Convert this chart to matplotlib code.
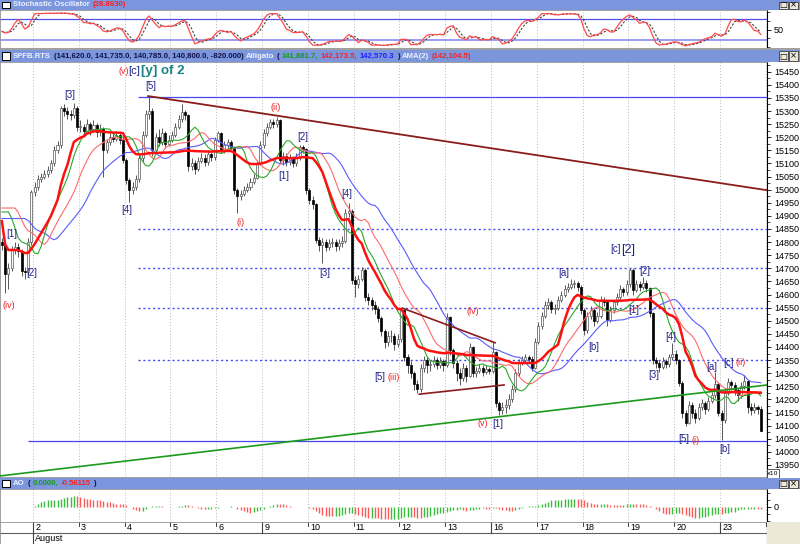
import matplotlib
matplotlib.use("Agg")
import matplotlib.pyplot as plt
from matplotlib.patches import Rectangle
import numpy as np
import pandas as pd

# SPFB.RTS hourly bars, 31 Jul .. 23 Aug (prices shown /10)
closes = [
    14790, 14680, 14700, 14770, 14780, 14765, 14690, 14685, 14800, 14990,
    15010, 15040, 15050, 15060, 15075, 15100, 15150, 15170, 15311, 15300, 15290, 15285, 15310, 15239,
    15240, 15225, 15250, 15230, 15245, 15220, 15230, 15151, 15180, 15200, 15195, 15210, 15190, 15113,
    15037, 15000, 15010, 15040, 15120, 15210, 15290, 15300, 15150, 15200, 15180, 15215, 15175, 15190,
    15210, 15240, 15270, 15295, 15285, 15090, 15100, 15080, 15110, 15120, 15105, 15135, 15125, 15190,
    15215, 15150, 15170, 15180, 15160, 14998, 14975, 14985, 15000, 15010, 15030, 15045, 15100, 15170,
    15216, 15240, 15260, 15250, 15265, 15113, 15130, 15105, 15120, 15100, 15125, 15163, 15155, 14998,
    14960, 14945, 14808, 14790, 14800, 14780, 14795, 14800, 14785, 14795, 14805, 14910, 14920, 14655,
    14640, 14660, 14693, 14590, 14580, 14560, 14545, 14510, 14460, 14420, 14440, 14440, 14410, 14430,
    14541, 14360, 14330, 14300, 14260, 14240, 14320, 14350, 14330, 14335, 14350, 14330, 14345, 14330,
    14515, 14389, 14340, 14300, 14280, 14320, 14290, 14400, 14300, 14310, 14320, 14305, 14315, 14310,
    14380, 14185, 14160, 14170, 14180, 14200, 14240, 14300, 14340, 14350, 14360, 14355, 14320, 14420,
    14480, 14520, 14560, 14570, 14545, 14550, 14580, 14600, 14620, 14630, 14640, 14645, 14630, 14541,
    14465, 14520, 14540, 14500, 14520, 14580, 14570, 14503, 14540, 14570, 14590, 14620, 14610, 14640,
    14693, 14617, 14640, 14630, 14645, 14625, 14530, 14350, 14340, 14325, 14345, 14335, 14360, 14375,
    14350, 14262, 14148, 14110, 14180, 14150, 14130, 14170, 14185, 14165, 14195, 14215, 14260, 14150,
    14120, 14225, 14265, 14255, 14235, 14215, 14250, 14270, 14172, 14160, 14170, 14162, 14080,
]
highs = [
    14815, 14800, 14720, 14785, 14800, 14795, 14775, 14705, 14815, 15000,
    15030, 15055, 15065, 15075, 15090, 15115, 15165, 15185, 15320, 15325, 15315, 15305, 15332, 15318,
    15265, 15250, 15270, 15260, 15265, 15255, 15250, 15240, 15195, 15215, 15215, 15225, 15220, 15200,
    15120, 15045, 15030, 15055, 15135, 15225, 15305, 15357, 15310, 15215, 15230, 15235, 15225, 15210,
    15225, 15255, 15285, 15325, 15305, 15290, 15120, 15115, 15125, 15140, 15135, 15150, 15145, 15200,
    15225, 15220, 15185, 15195, 15190, 15165, 15005, 15000, 15015, 15025, 15045, 15060, 15115, 15185,
    15230, 15255, 15270, 15268, 15278, 15270, 15145, 15140, 15135, 15130, 15140, 15170, 15172, 15160,
    15005, 14975, 14950, 14820, 14815, 14810, 14810, 14815, 14810, 14810, 14825, 14925, 14949, 14925,
    14670, 14675, 14705, 14700, 14605, 14590, 14575, 14555, 14520, 14470, 14460, 14465, 14455, 14450,
    14550, 14545, 14375, 14345, 14310, 14275, 14335, 14365, 14360, 14350, 14365, 14360, 14360, 14355,
    14530, 14520, 14395, 14350, 14320, 14340, 14330, 14415, 14405, 14325, 14335, 14330, 14330, 14325,
    14420, 14385, 14195, 14190, 14200, 14220, 14255, 14315, 14355, 14365, 14375, 14370, 14365, 14435,
    14495, 14535, 14575, 14585, 14580, 14565, 14595, 14615, 14635, 14645, 14660, 14655, 14650, 14635,
    14550, 14535, 14555, 14550, 14535, 14595, 14590, 14575, 14555, 14580, 14605, 14635, 14630, 14655,
    14700, 14700, 14655, 14650, 14667, 14655, 14630, 14535, 14360, 14350, 14360, 14355, 14375, 14415,
    14390, 14355, 14270, 14160, 14195, 14190, 14165, 14185, 14200, 14195, 14210, 14230, 14305, 14265,
    14160, 14240, 14280, 14275, 14265, 14245, 14265, 14293, 14275, 14185, 14185, 14180, 14173.5,
]
lows = [
    14770, 14606, 14620, 14690, 14755, 14745, 14670, 14660, 14675, 14790,
    14975, 15000, 15030, 15040, 15050, 15065, 15090, 15140, 15160, 15280, 15270, 15265, 15275, 15225,
    15220, 15205, 15215, 15210, 15220, 15200, 15205, 15048, 15140, 15170, 15180, 15185, 15175, 15100,
    15020, 14953, 14985, 15000, 15030, 15110, 15200, 15270, 15130, 15140, 15165, 15170, 15160, 15165,
    15180, 15200, 15230, 15260, 15265, 15070, 15075, 15060, 15070, 15100, 15090, 15095, 15110, 15115,
    15180, 15140, 15140, 15160, 15150, 14985, 14910, 14960, 14975, 14990, 15000, 15020, 15040, 15095,
    15160, 15205, 15230, 15235, 15240, 15100, 15095, 15090, 15095, 15085, 15090, 15115, 15140, 14985,
    14945, 14925, 14795, 14765, 14720, 14765, 14770, 14780, 14765, 14770, 14780, 14795, 14895, 14640,
    14591, 14625, 14650, 14575, 14560, 14540, 14525, 14495, 14440, 14395, 14405, 14420, 14390, 14400,
    14420, 14345, 14300, 14280, 14235, 14223, 14230, 14305, 14300, 14310, 14325, 14315, 14320, 14310,
    14325, 14370, 14320, 14270, 14255, 14270, 14265, 14285, 14285, 14285, 14300, 14290, 14295, 14295,
    14300, 14170, 14140, 14145, 14150, 14165, 14190, 14230, 14290, 14330, 14340, 14340, 14310, 14315,
    14410, 14470, 14510, 14545, 14530, 14525, 14540, 14570, 14590, 14610, 14620, 14625, 14615, 14525,
    14446, 14455, 14505, 14480, 14490, 14510, 14555, 14480, 14495, 14530, 14560, 14580, 14595, 14600,
    14630, 14600, 14610, 14615, 14620, 14610, 14515, 14335, 14320, 14305, 14315, 14320, 14325, 14350,
    14335, 14250, 14130, 14100, 14105, 14130, 14110, 14120, 14160, 14145, 14155, 14185, 14205, 14135,
    14045, 14110, 14215, 14235, 14215, 14195, 14205, 14240, 14150, 14140, 14150, 14145, 14078.5,
]
first_open = 14800

# indicator levels at the left edge of the chart
jaw_start = 14890
teeth_start = 14930
lips_start = 14915
ama_start = 14880

day_names = ["2", "3", "4", "5", "6", "9", "10", "11", "12", "13", "16", "17", "18", "19", "20", "23", "24"]
day_first_bar = [10, 24, 38, 52, 66, 80, 94, 108, 122, 136, 150, 164, 178, 192, 206, 220, 234]
week_days = ["2", "9", "16", "23"]

hlines_solid = [15355, 14040]
hlines_dotted = [14850, 14700, 14550, 14350]

# wave count labels: bar, price, text, colour
navy, red, teal = "#22228c", "#ee2020", "#178282"
wave_labels = [
    (3.1, 14831, "[1]", navy), (9.2, 14682, "[2]", navy), (2.2, 14560, "(iv)", red),
    (20.8, 15361, "[3]", navy), (38.3, 14922, "[4]", navy), (45.6, 15395, "[5]", navy),
    (73.1, 14873, "(i)", red), (83.8, 15315, "(ii)", red), (86.3, 15052, "[1]", navy),
    (92.1, 15201, "[2]", navy), (98.8, 14682, "[3]", navy), (105.5, 14983, "[4]", navy),
    (115.6, 14286, "[5]", navy), (119.9, 14282, "(iii)", red), (144.1, 14534, "(iv)", red),
    (147.1, 14107, "(v)", red), (151.7, 14107, "[1]", navy), (171.9, 14682, "[a]", navy),
    (180.8, 14400, "[b]", navy), (187.5, 14774, "[c]", navy), (196.4, 14690, "[2]", navy),
    (193.3, 14541, "[1]", navy), (199.4, 14293, "[3]", navy), (204.6, 14438, "[4]", navy),
    (208.6, 14049, "[5]", navy), (212.0, 14045, "(i)", red), (216.9, 14324, "[a]", navy),
    (222.1, 14339, "[c]", navy), (225.7, 14339, "(ii)", red), (221.1, 14011, "[b]", navy),
]

c = np.array(closes, float)
h = np.array(highs, float)
l = np.array(lows, float)
o = np.r_[first_open, c[:-1]]
med = (h + l) / 2
n = len(c)
idx = np.arange(n)


def smma(x, period, start):
    out = np.empty(len(x))
    s = start
    for k, v in enumerate(x):
        s = (s * (period - 1) + v) / period
        out[k] = s
    return out


def shifted(x, k, start):
    return np.r_[np.full(k, start), x[:-k]]


def kama(x, period, start):
    fast, slow = 2 / 3, 2 / 31
    out = np.empty(len(x))
    a = start
    for k in range(len(x)):
        j = max(0, k - period)
        vol = np.abs(np.diff(x[j:k + 1])).sum()
        er = abs(x[k] - x[j]) / vol if vol > 0 else 0
        sc = (er * (fast - slow) + slow) ** 2
        a += sc * (x[k] - a)
        out[k] = a
    return out


jaw = shifted(smma(med, 13, jaw_start), 8, jaw_start)
teeth = shifted(smma(med, 8, teeth_start), 5, teeth_start)
lips = shifted(smma(med, 5, lips_start), 3, lips_start)
ama = kama(c, 20, ama_start)

hh = pd.Series(h).rolling(14, min_periods=1).max()
ll = pd.Series(l).rolling(14, min_periods=1).min()
k_raw = 100 * (pd.Series(c) - ll) / (hh - ll)
k_line = k_raw.rolling(3, min_periods=1).mean()
d_line = k_line.rolling(3, min_periods=1).mean()

m = pd.Series(med)
ao = (m.rolling(5, min_periods=1).mean() - m.rolling(34, min_periods=1).mean()).values

# ---------------------------------------------------------------- layout
W, H = 800, 544
fig = plt.figure(figsize=(8, 5.44), dpi=100)
fig.patch.set_facecolor("white")


def px_box(x0, y0, x1, y1):
    return [x0 / W, 1 - y1 / H, (x1 - x0) / W, (y1 - y0) / H]


def fy(y):
    return 1 - y / H


def bar_at(px):
    # pixel column -> bar index
    return (px - 1.9) / 3.27


ax_st = fig.add_axes(px_box(0, 10, 767, 48))
ax = fig.add_axes(px_box(0, 62, 767, 477))
ax_ao = fig.add_axes(px_box(0, 489, 767, 522))
ax_dt = fig.add_axes(px_box(0, 522, 767, 544))

xlo, xhi = -0.58, 233.9
bounds = [b - 0.5 for b in day_first_bar]

for a in (ax_st, ax, ax_ao, ax_dt):
    a.set_xlim(xlo, xhi)
    a.set_xticks([])
    for s in ("left", "top", "bottom"):
        a.spines[s].set_color("#909090")
        a.spines[s].set_linewidth(0.6)
    a.spines["right"].set_color("black")
    a.spines["right"].set_linewidth(0.8)
for a in (ax_st, ax, ax_ao):
    for b in bounds:
        a.axvline(b, color="#b8b8b8", lw=0.7, ls=(0, (1, 2)), zorder=0)
    a.yaxis.tick_right()
    a.tick_params(axis="y", direction="out", length=3, width=0.6, pad=2,
                  labelsize=6.5, labelfontfamily="Liberation Sans")

# ---------------------------------------------------------------- stochastic
ax_st.set_ylim(-3.6, 106.5)
ax_st.axhline(80, color="#5050ee", lw=0.9)
ax_st.axhline(20, color="#8a8af5", lw=1.2)
ax_st.plot(idx, d_line, color="#444444", lw=0.8, ls=(0, (2, 1.5)))
ax_st.plot(idx, k_line, color="#ff4a4a", lw=0.9)
ax_st.set_yticks([50])
ax_st.set_yticks([0, 25, 75, 100], minor=True)
ax_st.tick_params(axis="y", which="minor", direction="out", length=2, width=0.5)

# ---------------------------------------------------------------- price
ax.set_ylim(13904, 15487)
ax.set_yticks(np.arange(13950, 15451, 50))
ax.set_yticks(np.arange(13925, 15480, 50), minor=True)
ax.tick_params(axis="y", which="minor", direction="out", length=2, width=0.5)

for p in hlines_dotted:
    ax.hlines(p, 41.6, xhi, color="#4848f0", lw=1.0, ls=(0, (1.5, 2)), zorder=2)
ax.hlines(hlines_solid[0], 41.6, xhi, color="#4848f0", lw=0.9, zorder=2)
ax.hlines(hlines_solid[1], 8, xhi, color="#4848f0", lw=0.9, zorder=2)

ax.plot([xlo, xhi], [13908, 14255], color="#1b9a1b", lw=1.2, zorder=6)
ax.plot([44.7, xhi], [15357, 14998], color="#8b1c1c", lw=1.3, zorder=6)
ax.plot([122.5, 150.8], [14548, 14416], color="#8b1c1c", lw=1.2, zorder=6)
ax.plot([127.6, 153.5], [14220, 14255], color="#8b1c1c", lw=1.2, zorder=6)

up = c >= o
body_lo = np.minimum(o, c)
body_h = np.maximum(np.abs(c - o), 3)
ax.vlines(idx, l, h, color="#555555", lw=0.7, zorder=3)
ax.bar(idx[up], body_h[up], bottom=body_lo[up], width=0.62, color="white",
       edgecolor="#555555", lw=0.5, zorder=4)
ax.bar(idx[~up], body_h[~up], bottom=body_lo[~up], width=0.62, color="black",
       edgecolor="black", lw=0.5, zorder=4)

ax.plot(idx, jaw, color="#5a5aff", lw=0.8, zorder=5)
ax.plot(idx, teeth, color="#ff6a6a", lw=0.8, zorder=5)
ax.plot(idx, lips, color="#2aa82a", lw=0.8, zorder=5)
ax.plot(idx, ama, color="#ff1010", lw=1.8, zorder=5)

for bx, py, txt, col in wave_labels:
    ax.text(bx, py, txt, color=col, ha="center", va="center", zorder=7,
            fontsize=7 if col == navy else 6.5, family="Liberation Sans")
ax.text(191.5, 14770, "[2]", color=navy, ha="center", va="center",
        fontsize=9, family="Liberation Sans", zorder=7)
# big count title near the top
ax.text(bar_at(118), 15452, "(v)", color=red, ha="left", va="center", fontsize=6.5,
        family="Liberation Sans", zorder=7)
ax.text(bar_at(128), 15452, "[c]", color=navy, ha="left", va="center", fontsize=8,
        family="Liberation Sans", zorder=7)
ax.text(bar_at(141), 15452, "[y] of 2", color=teal, ha="left", va="center", fontsize=9.5,
        fontweight="bold", family="Liberation Sans", zorder=7)

# ---------------------------------------------------------------- AO
top = np.abs(ao).max() / 12
ax_ao.set_ylim(-15 * top, 18 * top)
ao_col = np.where(np.r_[0, np.diff(ao)] > 0, "#3cbc3c", "#ff5a5a")
ax_ao.vlines(idx, 0, ao, colors=ao_col, lw=1.0)
ax_ao.set_yticks([0])
ax_ao.set_yticks([-14 * top, -7 * top, 7 * top, 14 * top], minor=True)
ax_ao.tick_params(axis="y", which="minor", direction="out", length=2, width=0.5)
ax_ao.set_yticklabels(["0"])

# ---------------------------------------------------------------- date strip
ax_dt.set_ylim(0, 1)
ax_dt.set_yticks([])
ax_dt.axhline(0.5, color="#606060", lw=0.8)
for b, name in zip(bounds, day_names):
    ax_dt.plot([b, b], [1, 0.82], color="#404040", lw=0.7)
    if name in week_days:
        ax_dt.plot([b, b], [1, 0.5 if name != "2" else 0], color="#404040", lw=0.8)
    ax_dt.text(b + 0.7, 0.74, name, fontsize=6.5, family="Liberation Sans",
               ha="left", va="center", clip_on=True)
ax_dt.text(bounds[0] + 0.7, 0.24, "August", fontsize=6.5, family="Liberation Sans",
           ha="left", va="center")
fig.add_artist(Rectangle((767 / W, 0), 33 / W, 22 / H, transform=fig.transFigure,
                         facecolor="#ece9d8", edgecolor="none"))

# x10 marker
fig.add_artist(Rectangle((767 / W, fy(478)), 12 / W, 9 / H, transform=fig.transFigure,
                         facecolor="white", edgecolor="#404040", lw=0.6))
fig.text(773 / W, fy(473.5), "x10", fontsize=4.5, ha="center", va="center")

# ---------------------------------------------------------------- title bars
bar_col = "#7b96dc"
light = "#eef1ff"
dark = "#12124a"
renderer = fig.canvas.get_renderer()


def title_bar(y0, y1, parts):
    fig.add_artist(Rectangle((0, fy(y1)), 1, (y1 - y0) / H, transform=fig.transFigure,
                             facecolor=bar_col, edgecolor="none"))
    yc = fy((y0 + y1) / 2)
    fig.add_artist(Rectangle((2 / W, fy(y1 - 2)), 8 / W, (y1 - y0 - 4) / H,
                             transform=fig.transFigure, facecolor="white",
                             edgecolor="black", lw=0.7))
    x = 13
    for txt, col in parts:
        t = fig.text(x / W, yc, txt, color=col, fontsize=5.6, fontweight="bold",
                     family="Liberation Sans", ha="left", va="center")
        x += t.get_window_extent(renderer).width + 2.5
    for x0, sym in ((779, "\u25a1"), (789, "\u00d7")):
        fig.add_artist(Rectangle((x0 / W, fy(y1 - 1.5)), 9 / W, (y1 - y0 - 3) / H,
                                 transform=fig.transFigure, facecolor="#ece9d8",
                                 edgecolor="#404040", lw=0.6))
        fig.text((x0 + 4.5) / W, yc, sym, fontsize=6, ha="center", va="center")


title_bar(0, 10, [("Stochastic Oscillator", light), ("(28.8630)", "#ff2020")])
title_bar(50, 62, [("SPFB.RTS", light),
                   ("(141,620.0, 141,735.0, 140,785.0, 140,800.0, -820.000)", dark),
                   ("Alligato", light), ("(", dark), ("141,881.7,", "#1a9a1a"),
                   ("142,173.5,", "#ff2020"), ("142,570.3", "#2020ff"), (")", dark),
                   ("AMA(2)", light), ("(142,104.5)", "#ff2020")])
title_bar(478, 489, [("AO", light), ("(", dark), ("0.0000,", "#1a9a1a"),
                     ("-0.56115", "#ff2020"), (")", dark)])

fig.add_artist(Rectangle((0, fy(50)), 1, 2 / H, transform=fig.transFigure,
                         facecolor="#a0a0a0", edgecolor="none"))

fig.savefig("out.png", dpi=100)
